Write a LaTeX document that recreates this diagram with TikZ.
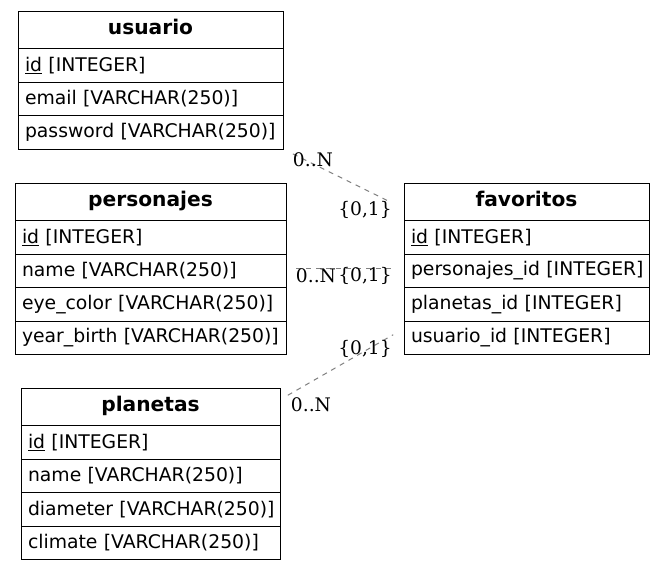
\documentclass[tikz,border=0pt]{standalone}
\usepackage{fontspec}
\setmainfont{DejaVu Sans}
\newfontfamily\lblfont{DejaVu Serif}
\begin{document}
\begin{tikzpicture}[x=1pt,y=-1pt,
  cell/.style={draw=black, line width=1pt, anchor=north west, inner xsep=7pt, inner ysep=0pt, outer sep=0pt,
    minimum height=33.5pt, align=left, font=\fontsize{18.8}{22}\selectfont},
  head/.style={cell, minimum height=37.5pt, align=center, text height=15pt, text depth=5pt,
    font=\fontsize{20.2}{23}\selectfont\bfseries},
  rel/.style={draw=gray, line width=1pt, dash pattern=on 5pt off 5pt},
  lbl/.style={font=\lblfont\fontsize{18.67}{22}\selectfont, inner sep=0pt}]
\useasboundingbox (0,0) rectangle (664,570);
\fill[white] (0,0) rectangle (664,570);
% usuario
\node[head, text width=251pt] (ushead) at (18,11) {\mbox{usuario}};
\node[cell, text width=251pt] (usid) at (ushead.south west) {\mbox{\underline{id} [INTEGER]}};
\node[cell, text width=251pt] (usmail) at (usid.south west) {\mbox{email [VARCHAR(250)]}};
\node[cell, text width=251pt] (uspass) at (usmail.south west) {\mbox{password [VARCHAR(250)]}};
% personajes
\node[head, text width=257pt] (perhead) at (15,183) {\mbox{personajes}};
\node[cell, text width=257pt] (perid) at (perhead.south west) {\mbox{\underline{id} [INTEGER]}};
\node[cell, text width=257pt] (pername) at (perid.south west) {\mbox{name [VARCHAR(250)]}};
\node[cell, text width=257pt] (pereye) at (pername.south west) {\mbox{eye\_color [VARCHAR(250)]}};
\node[cell, text width=257pt] (peryear) at (pereye.south west) {\mbox{year\_birth [VARCHAR(250)]}};
% planetas
\node[head, text width=245pt] (planhead) at (21,388) {\mbox{planetas}};
\node[cell, text width=245pt] (planid) at (planhead.south west) {\mbox{\underline{id} [INTEGER]}};
\node[cell, text width=245pt] (planname) at (planid.south west) {\mbox{name [VARCHAR(250)]}};
\node[cell, text width=245pt] (plandiam) at (planname.south west) {\mbox{diameter [VARCHAR(250)]}};
\node[cell, text width=245pt] (planclim) at (plandiam.south west) {\mbox{climate [VARCHAR(250)]}};
% favoritos
\node[head, text width=231pt] (favhead) at (404,183) {\mbox{favoritos}};
\node[cell, text width=231pt] (favid) at (favhead.south west) {\mbox{\underline{id} [INTEGER]}};
\node[cell, text width=231pt] (favpid) at (favid.south west) {\mbox{personajes\_id [INTEGER]}};
\node[cell, text width=231pt] (favplid) at (favpid.south west) {\mbox{planetas\_id [INTEGER]}};
\node[cell, text width=231pt] (favuid) at (favplid.south west) {\mbox{usuario\_id [INTEGER]}};
% relations
\draw[rel, shorten <=11pt, shorten >=18pt] (uspass.south east) -- ([yshift=-7pt]favhead.west);
\draw[rel, shorten <=10pt, shorten >=11pt] ([yshift=-14pt]pername.north east) -- ([yshift=-14pt]favpid.north west);
\draw[rel, shorten <=9pt, shorten >=12.5pt] ([yshift=7pt]planhead.east) -- ([yshift=-7.5pt]favuid.north west);
% labels
\node[lbl] (l1a) at (313,160) {0..N};
\node[lbl] (l1b) at (365,210) {\{0,1\}};
\node[lbl] (l2a) at (316,276) {0..N};
\node[lbl] (l2b) at (365,276) {\{0,1\}};
\node[lbl] (l3b) at (365,349) {\{0,1\}};
\node[lbl] (l3a) at (311,405) {0..N};
\end{tikzpicture}
\end{document}
